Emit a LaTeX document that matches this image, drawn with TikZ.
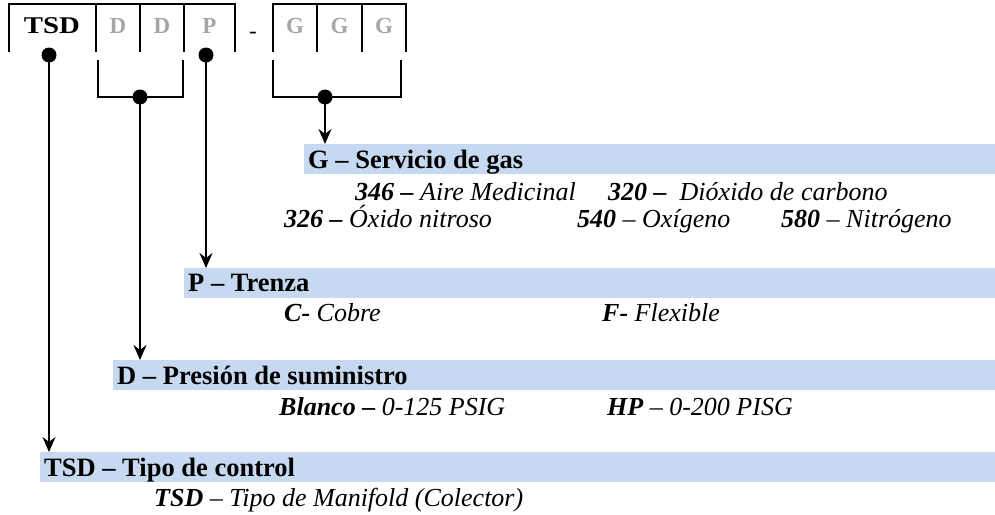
\documentclass[tikz,border=0pt]{standalone}
\usepackage{fontspec}
\setmainfont{Liberation Serif}
\usetikzlibrary{arrows.meta}
\definecolor{barblue}{RGB}{198,217,240}
\definecolor{codegray}{RGB}{166,166,166}
\begin{document}
\begin{tikzpicture}[x=1pt,y=-1pt,
  frame/.style={line width=2pt},
  arr/.style={line width=2pt,-{Stealth[length=15pt,width=13pt,inset=5pt]}},
  dot/.style={circle,fill=black,inner sep=0pt,minimum size=15pt},
  bar/.style={fill=barblue,inner sep=0pt,minimum height=30pt,anchor=north west},
  head/.style={anchor=base west,inner sep=0pt,font=\fontsize{26.5}{30}\selectfont\bfseries},
  item/.style={anchor=base west,inner sep=0pt,font=\fontsize{26}{30}\selectfont\itshape},
  code/.style={anchor=base,inner sep=0pt,font=\fontsize{23}{26}\selectfont\bfseries},
]
\useasboundingbox (0,0) rectangle (995,514);
% code boxes
\draw[frame] (9,52) -- (9,4) -- (235,4) -- (235,52);
\draw[frame] (96,4) -- (96,52);
\draw[frame] (140,4) -- (140,52);
\draw[frame] (184,4) -- (184,52);
\draw[frame] (273,52) -- (273,4) -- (406,4) -- (406,52);
\draw[frame] (317,4) -- (317,52);
\draw[frame] (362,4) -- (362,52);
\node[code,font=\fontsize{24}{26}\selectfont\bfseries] (ctsd) at (52,33) {\scalebox{1.2}[1]{TSD}};
\node[code,text=codegray] (cd1) at (118,33) {D};
\node[code,text=codegray] (cd2) at (162,33) {D};
\node[code,text=codegray] (cp) at (209.5,33) {P};
\node[anchor=base,inner sep=0pt,font=\fontsize{23}{26}\selectfont] (cdash) at (253,38) {-};
\node[code,text=codegray] (cg1) at (295,33) {G};
\node[code,text=codegray] (cg2) at (339.5,33) {G};
\node[code,text=codegray] (cg3) at (384,33) {G};
% brackets
\draw[frame] (98,60) -- (98,97) -- (183,97) -- (183,60);
\draw[frame] (273,60) -- (273,97) -- (401,97) -- (401,60);
% dots
\node[dot] (tsddot) at (49,55) {};
\node[dot] (pdot) at (206,55) {};
\node[dot] (ddot) at (140,97) {};
\node[dot] (gdot) at (325,97) {};
% bars
\node[bar,minimum width=691pt] (gbar) at (304,144) {};
\node[bar,minimum width=811pt] (pbar) at (184,268) {};
\node[bar,minimum width=882pt] (dbar) at (113,360) {};
\node[bar,minimum width=955pt] (tbar) at (40,452) {};
% arrows
\draw[arr] (gdot.center) -- (gbar.north west -| gdot.center);
\draw[arr] (pdot.center) -- (pbar.north west -| pdot.center);
\draw[arr] (ddot.center) -- (dbar.north west -| ddot.center);
\draw[arr] (tsddot.center) -- (tbar.north west -| tsddot.center);
% headings
\node[head] (ghead) at (308,168) {G – Servicio de gas};
\node[head] (phead) at (188,291) {P – Trenza};
\node[head] (dhead) at (117,384) {D – Presión de suministro};
\node[head] (thead) at (44,476) {TSD – Tipo de control};
% items
\node[item] (g1) at (355,200) {\textbf{346 –} Aire Medicinal};
\node[item] (g2) at (608,200) {\textbf{320 –}\ \ Dióxido de carbono};
\node[item] (g3) at (284,227) {\textbf{326 –} Óxido nitroso};
\node[item] (g4) at (577,227) {\textbf{540} – Oxígeno};
\node[item] (g5) at (781,227) {\textbf{580} – Nitrógeno};
\node[item] (p1) at (284,321) {\textbf{C-} Cobre};
\node[item] (p2) at (602,321) {\textbf{F-} Flexible};
\node[item] (d1) at (279,415) {\textbf{Blanco –} 0-125 PSIG};
\node[item] (d2) at (607,415) {\textbf{HP} – 0-200 PISG};
\node[item] (t1) at (154,506) {\textbf{TSD} – Tipo de Manifold (Colector)};
\end{tikzpicture}
\end{document}
